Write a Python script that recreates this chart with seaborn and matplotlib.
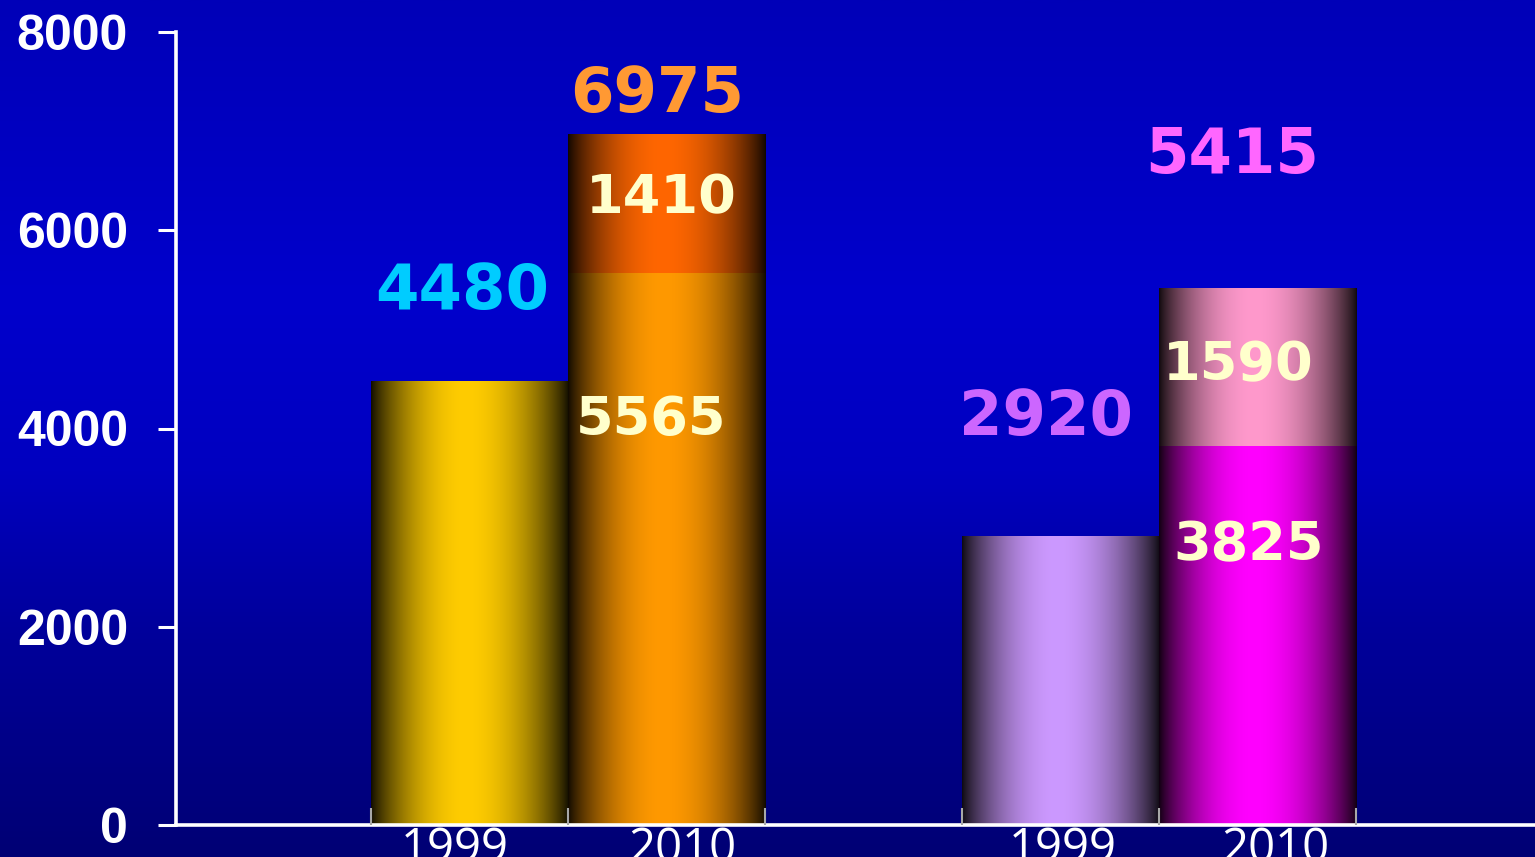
import numpy as np
import pandas as pd
import matplotlib
matplotlib.use("Agg")
import matplotlib.pyplot as plt
import seaborn as sns
from matplotlib.colors import to_rgb, LinearSegmentedColormap

# ---- data ----
groups = ["A", "B"]
years = ["1999", "2010"]
value_1999 = [4480, 2920]
base_2010 = [5565, 3825]
extra_2010 = [1410, 1590]
total_2010 = [b + e for b, e in zip(base_2010, extra_2010)]

y_ticks = [0, 2000, 4000, 6000, 8000]
y_tick_labels = ["0", "2000", "4000", "6000", "8000"]

# ---- colours ----
color_1999 = ["#FFCC00", "#CC99FF"]
color_2010_base = ["#FF9900", "#FF00FF"]
color_2010_extra = ["#FF6600", "#FF99CC"]
label_color_1999 = ["#00CCFF", "#CC66FF"]
label_color_2010 = ["#FF9933", "#FF66FF"]
inner_label_color = "#FFFFCC"

# ---- layout tweaks for the value labels (x in bar widths, y in data units) ----
top_1999_dx = [-0.036, -0.074]
top_1999_dy = [725, 1014]
top_2010_dx = [-0.05, -0.127]
top_2010_dy = [218, 1162]
extra_dx = [-0.028, -0.10]
extra_dy = [609, 664]        # above the base segment
base_dx = [-0.08, -0.046]
base_dy = [-1631, -1152]     # below the base segment top
xlabel_shift = [-0.074, 0.081, 0.010, 0.091]

sns.set_style("ticks")
plt.rcParams["font.family"] = ["DejaVu Sans"]

fig = plt.figure(figsize=(15.35, 8.57), dpi=100)

# background gradient
bg = fig.add_axes([0, 0, 1, 1], zorder=-10)
bg.axis("off")
bg_cmap = LinearSegmentedColormap.from_list(
    "bg",
    [(0.0, "#0000B8"), (0.35, "#0000CC"), (0.55, "#0000C0"),
     (0.72, "#00009E"), (0.93, "#00007E"), (1.0, "#000074")])
bg.imshow(np.linspace(0, 1, 512)[:, None], cmap=bg_cmap, aspect="auto",
          extent=[0, 1, 0, 1], origin="upper")

ax = fig.add_axes([176 / 1535, 32 / 857, 1 - 176 / 1535, 793 / 857])
ax.patch.set_alpha(0)

# bar slots: 1999 and 2010 side by side, groups separated by an empty slot
pos_1999 = [3 * g for g in range(len(groups))]
pos_2010 = [3 * g + 1 for g in range(len(groups))]

df_full = pd.DataFrame({
    "pos": pos_1999 + pos_2010,
    "height": value_1999 + total_2010,
    "key": [f"{g}-1999" for g in groups] + [f"{g}-2010" for g in groups],
})
pal_full = {f"{g}-1999": c for g, c in zip(groups, color_1999)}
pal_full.update({f"{g}-2010": c for g, c in zip(groups, color_2010_extra)})

df_base = pd.DataFrame({
    "pos": pos_2010,
    "height": base_2010,
    "key": [f"{g}-base" for g in groups],
})
pal_base = {f"{g}-base": c for g, c in zip(groups, color_2010_base)}


def unit_width(df):
    return 1.0 / np.diff(np.unique(df["pos"])).min()


sns.barplot(data=df_full, x="pos", y="height", hue="key", palette=pal_full,
            dodge=False, native_scale=True, width=unit_width(df_full),
            saturation=1, errorbar=None, legend=False, linewidth=0, ax=ax)
sns.barplot(data=df_base, x="pos", y="height", hue="key", palette=pal_base,
            dodge=False, native_scale=True, width=unit_width(df_base),
            saturation=1, errorbar=None, legend=False, linewidth=0, ax=ax)


# cylinder-like shading: dark edges, bright centre
def shade(patch, peak=0.48):
    x0, y0 = patch.get_x(), patch.get_y()
    w, h = patch.get_width(), patch.get_height()
    rgb = np.array(to_rgb(patch.get_facecolor()))
    t = np.linspace(0, 1, 400)
    u = np.where(t < peak, 0.5 * t / peak, 0.5 + 0.5 * (t - peak) / (1 - peak))
    f = 0.06 + 0.94 * np.sin(np.pi * u) ** 0.8
    img = (f[:, None] * rgb[None, :])[None, :, :]
    im = ax.imshow(img, extent=[x0, x0 + w, y0, y0 + h], aspect="auto",
                   origin="lower", zorder=1.2, interpolation="bilinear")
    im.set_clip_path(patch)
    patch.set_facecolor("none")
    patch.set_edgecolor("none")


for p in list(ax.patches):
    if p.get_height() > 0:
        shade(p)

# value labels
for i in range(len(groups)):
    ax.text(pos_1999[i] + top_1999_dx[i], value_1999[i] + top_1999_dy[i],
            str(value_1999[i]), ha="center", va="baseline", fontsize=45,
            fontweight="bold", color=label_color_1999[i], zorder=3)
    ax.text(pos_2010[i] + top_2010_dx[i], total_2010[i] + top_2010_dy[i],
            str(total_2010[i]), ha="center", va="baseline", fontsize=45,
            fontweight="bold", color=label_color_2010[i], zorder=3)
    ax.text(pos_2010[i] + extra_dx[i], base_2010[i] + extra_dy[i],
            str(extra_2010[i]), ha="center", va="baseline", fontsize=39,
            fontweight="bold", color=inner_label_color, zorder=3)
    ax.text(pos_2010[i] + base_dx[i], base_2010[i] + base_dy[i],
            str(base_2010[i]), ha="center", va="baseline", fontsize=39,
            fontweight="bold", color=inner_label_color, zorder=3)

# axes styling
ax.set_axisbelow(False)
ax.set_xlim(-1.49, 5.408)
ax.set_ylim(0, 8000)
ax.set_xlabel("")
ax.set_ylabel("")
for s in ("top", "right"):
    ax.spines[s].set_visible(False)
for s in ("left", "bottom"):
    ax.spines[s].set_color("white")
    ax.spines[s].set_linewidth(2.6)

ax.set_yticks(y_ticks)
ax.set_yticklabels(y_tick_labels, fontsize=36, fontweight="bold",
                   color="white", family="Liberation Sans")
ax.tick_params(axis="y", length=13, width=2.2, color="white", pad=21.6)

centers = sorted(pos_1999 + pos_2010)
xlabels = [years[c % 3] for c in centers]
ax.set_xticks([c + d for c, d in zip(centers, xlabel_shift)])
ax.set_xticklabels(xlabels, fontsize=34, color="white", family="Open Sans")
ax.tick_params(axis="x", which="major", length=0, pad=0)

edges = np.unique(np.concatenate([np.array(centers) - 0.5,
                                  np.array(centers) + 0.5]))
ax.set_xticks(edges, minor=True)
ax.tick_params(axis="x", which="minor", direction="in", length=12,
               width=1.5, color="#A8A8A8")

fig.savefig("out.png", dpi=100)
